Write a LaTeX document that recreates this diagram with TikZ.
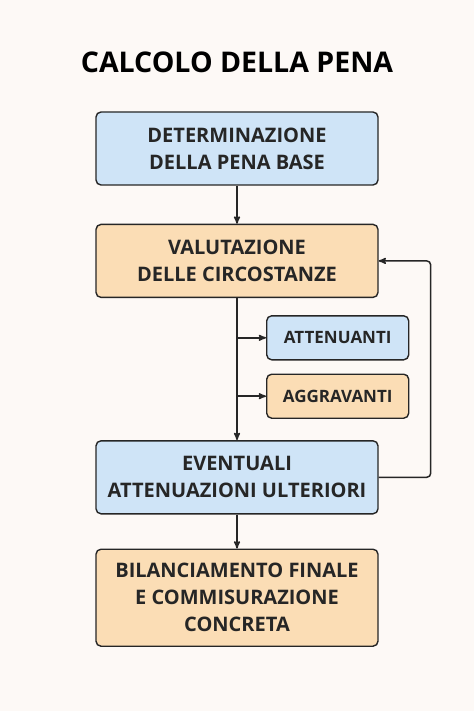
\documentclass[tikz,border=0pt]{standalone}
\usepackage{fontspec}
\setmainfont{Open Sans}
\usetikzlibrary{arrows,positioning}
\definecolor{paper}{HTML}{FDF9F6}
\definecolor{bluefill}{HTML}{CFE4F7}
\definecolor{orangefill}{HTML}{FBDDB5}
\definecolor{ink}{HTML}{262626}
\tikzstyle{box}=[rectangle,draw=ink,line width=1.4pt,rounded corners=5pt,text centered,align=center,text=ink,font=\fontsize{20}{27}\selectfont\bfseries,minimum width=282pt,minimum height=73pt,inner sep=0pt]
\tikzstyle{blue box}=[box,fill=bluefill]
\tikzstyle{orange box}=[box,fill=orangefill]
\tikzstyle{small box}=[box,minimum width=142pt,minimum height=44pt,font=\fontsize{17}{20}\selectfont\bfseries]
\tikzstyle{flow}=[-stealth',line width=1.5pt,draw=ink]

\begin{document}
\begin{tikzpicture}[x=1pt,y=-1pt]
\fill [paper] (0,0) rectangle (474,711) ;
\useasboundingbox (0,0) rectangle (474,711) ;

\node (title) [font=\fontsize{28.5}{32}\selectfont\bfseries,text=black] at (237,62) {CALCOLO DELLA PENA} ;

\node (base) [blue box] at (237,148.5) {DETERMINAZIONE\\DELLA PENA BASE} ;
\node (circ) [orange box,below=38pt of base] {VALUTAZIONE\\DELLE CIRCOSTANZE} ;
\node (att) [blue box,small box,below right=17pt and 29pt of circ.south] {ATTENUANTI} ;
\node (aggr) [orange box,small box,below=13pt of att] {AGGRAVANTI} ;
\node (ult) [blue box,below=142pt of circ] {EVENTUALI\\ATTENUAZIONI ULTERIORI} ;
\node (fin) [orange box,minimum height=97pt,below=34pt of ult] {BILANCIAMENTO FINALE\\E COMMISURAZIONE\\CONCRETA} ;

\draw [flow] (base) -- (circ) ;
\draw [flow] (circ) -- (ult) ;
\draw [flow] (circ.south |- att.west) -- (att.west) ;
\draw [flow] (circ.south |- aggr.west) -- (aggr.west) ;
\draw [flow] (ult) -- (fin) ;
\draw [flow,rounded corners=4pt] (ult.east) -- ++(52pt,0) |- (circ.east) ;

\end{tikzpicture}
\end{document}
